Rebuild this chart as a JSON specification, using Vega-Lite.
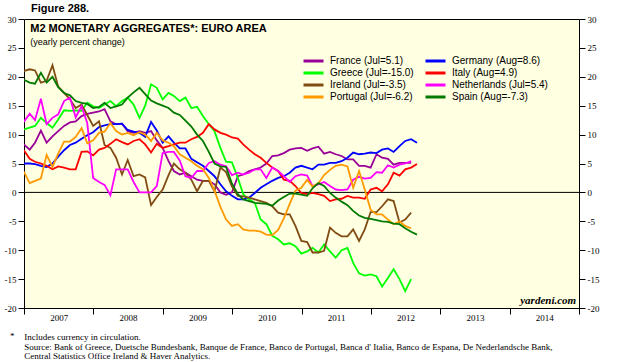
{
  "$schema": "https://vega.github.io/schema/vega-lite/v6.json",
  "width": 555,
  "height": 289,
  "autosize": {"type": "none"},
  "padding": {"left": 24, "top": 19, "right": 38, "bottom": 54},
  "background": "#ffffff",
  "title": {"text": "Figure 288.", "anchor": "start", "frame": "group", "dx": 7, "offset": -8, "font": "Liberation Sans", "fontSize": 11, "fontWeight": "bold", "color": "#000000", "baseline": "alphabetic"},
  "config": {
    "view": {"fill": "#ffffe1", "stroke": "#000000", "strokeWidth": 1},
    "axis": {"domain": false, "grid": false, "tickColor": "#000000", "labelColor": "#000000", "labelFont": "Liberation Serif", "labelFontSize": 9, "tickSize": 6, "tickWidth": 1}
  },
  "datasets": {
    "m2": [
      {"d":"2006-12-31","France":8.3,"Germany":5.0,"Greece":10.9,"Ireland":21.0,"Italy":7.3,"Netherlands":12.2,"Portugal":3.6,"Spain":19.5},
      {"d":"2007-01-31","France":7.4,"Germany":5.0,"Greece":11.2,"Ireland":21.3,"Italy":5.8,"Netherlands":13.6,"Portugal":1.6,"Spain":19.0},
      {"d":"2007-02-28","France":8.6,"Germany":4.9,"Greece":11.5,"Ireland":21.1,"Italy":5.3,"Netherlands":12.5,"Portugal":2.0,"Spain":18.8},
      {"d":"2007-03-31","France":10.7,"Germany":4.6,"Greece":12.9,"Ireland":19.0,"Italy":5.0,"Netherlands":16.2,"Portugal":2.4,"Spain":20.7},
      {"d":"2007-04-30","France":8.6,"Germany":4.4,"Greece":12.0,"Ireland":19.3,"Italy":4.6,"Netherlands":11.8,"Portugal":6.5,"Spain":19.0},
      {"d":"2007-05-31","France":9.7,"Germany":5.0,"Greece":11.2,"Ireland":22.0,"Italy":4.0,"Netherlands":12.9,"Portugal":4.4,"Spain":20.0},
      {"d":"2007-06-30","France":10.6,"Germany":6.2,"Greece":12.6,"Ireland":18.3,"Italy":4.5,"Netherlands":13.5,"Portugal":6.7,"Spain":18.2},
      {"d":"2007-07-31","France":11.5,"Germany":7.3,"Greece":14.2,"Ireland":17.2,"Italy":4.3,"Netherlands":15.8,"Portugal":8.8,"Spain":17.2},
      {"d":"2007-08-31","France":12.1,"Germany":8.2,"Greece":14.1,"Ireland":16.1,"Italy":4.0,"Netherlands":16.4,"Portugal":8.8,"Spain":16.8},
      {"d":"2007-09-30","France":12.3,"Germany":8.6,"Greece":14.2,"Ireland":14.6,"Italy":4.0,"Netherlands":13.0,"Portugal":9.6,"Spain":15.8},
      {"d":"2007-10-31","France":13.2,"Germany":9.3,"Greece":14.1,"Ireland":15.2,"Italy":7.0,"Netherlands":14.9,"Portugal":11.1,"Spain":15.5},
      {"d":"2007-11-30","France":13.6,"Germany":9.9,"Greece":15.5,"Ireland":13.4,"Italy":7.1,"Netherlands":12.0,"Portugal":8.5,"Spain":15.3},
      {"d":"2007-12-31","France":13.8,"Germany":10.4,"Greece":14.9,"Ireland":11.5,"Italy":6.4,"Netherlands":2.5,"Portugal":9.0,"Spain":14.6},
      {"d":"2008-01-31","France":14.0,"Germany":11.3,"Greece":14.6,"Ireland":12.3,"Italy":7.4,"Netherlands":1.8,"Portugal":10.3,"Spain":14.8},
      {"d":"2008-02-29","France":14.4,"Germany":11.6,"Greece":15.2,"Ireland":8.2,"Italy":7.7,"Netherlands":1.3,"Portugal":10.5,"Spain":15.5},
      {"d":"2008-03-31","France":12.3,"Germany":11.8,"Greece":15.8,"Ireland":7.7,"Italy":8.4,"Netherlands":-0.5,"Portugal":12.0,"Spain":14.6},
      {"d":"2008-04-30","France":11.8,"Germany":11.8,"Greece":14.9,"Ireland":6.0,"Italy":9.2,"Netherlands":4.0,"Portugal":10.6,"Spain":14.9},
      {"d":"2008-05-31","France":11.9,"Germany":11.9,"Greece":15.8,"Ireland":3.1,"Italy":8.7,"Netherlands":4.0,"Portugal":10.0,"Spain":15.2},
      {"d":"2008-06-30","France":10.6,"Germany":10.8,"Greece":16.4,"Ireland":5.6,"Italy":8.3,"Netherlands":4.0,"Portugal":10.3,"Spain":16.4},
      {"d":"2008-07-31","France":10.3,"Germany":10.5,"Greece":15.2,"Ireland":2.8,"Italy":8.9,"Netherlands":1.8,"Portugal":9.9,"Spain":17.3},
      {"d":"2008-08-31","France":10.6,"Germany":10.3,"Greece":12.9,"Ireland":3.1,"Italy":9.2,"Netherlands":0.0,"Portugal":10.4,"Spain":18.1},
      {"d":"2008-09-30","France":10.3,"Germany":9.6,"Greece":15.0,"Ireland":2.6,"Italy":8.3,"Netherlands":0.0,"Portugal":10.0,"Spain":17.0},
      {"d":"2008-10-31","France":10.6,"Germany":12.2,"Greece":18.7,"Ireland":-2.2,"Italy":6.9,"Netherlands":0.0,"Portugal":8.9,"Spain":15.9},
      {"d":"2008-11-30","France":9.0,"Germany":10.7,"Greece":18.1,"Ireland":-0.8,"Italy":8.4,"Netherlands":1.1,"Portugal":10.3,"Spain":15.4},
      {"d":"2008-12-31","France":7.7,"Germany":8.6,"Greece":16.1,"Ireland":0.5,"Italy":7.7,"Netherlands":6.8,"Portugal":9.0,"Spain":15.0},
      {"d":"2009-01-31","France":5.4,"Germany":9.7,"Greece":17.2,"Ireland":3.0,"Italy":8.0,"Netherlands":7.0,"Portugal":8.6,"Spain":14.6},
      {"d":"2009-02-28","France":3.7,"Germany":8.6,"Greece":16.7,"Ireland":5.0,"Italy":8.3,"Netherlands":7.0,"Portugal":8.0,"Spain":13.8},
      {"d":"2009-03-31","France":3.1,"Germany":7.6,"Greece":15.8,"Ireland":4.0,"Italy":8.6,"Netherlands":5.5,"Portugal":6.6,"Spain":13.4},
      {"d":"2009-04-30","France":3.4,"Germany":7.6,"Greece":16.4,"Ireland":3.4,"Italy":8.6,"Netherlands":2.8,"Portugal":6.0,"Spain":12.4},
      {"d":"2009-05-31","France":2.8,"Germany":5.8,"Greece":14.6,"Ireland":2.2,"Italy":9.2,"Netherlands":2.5,"Portugal":5.4,"Spain":11.4},
      {"d":"2009-06-30","France":2.2,"Germany":5.2,"Greece":14.8,"Ireland":0.2,"Italy":9.6,"Netherlands":3.7,"Portugal":4.6,"Spain":10.0},
      {"d":"2009-07-31","France":2.0,"Germany":4.6,"Greece":13.2,"Ireland":2.0,"Italy":10.3,"Netherlands":3.7,"Portugal":4.0,"Spain":8.9},
      {"d":"2009-08-31","France":2.0,"Germany":3.7,"Greece":11.8,"Ireland":2.0,"Italy":11.8,"Netherlands":5.1,"Portugal":2.5,"Spain":7.0},
      {"d":"2009-09-30","France":1.4,"Germany":2.8,"Greece":10.6,"Ireland":0.2,"Italy":10.9,"Netherlands":5.4,"Portugal":0.3,"Spain":5.0},
      {"d":"2009-10-31","France":0.0,"Germany":1.4,"Greece":7.7,"Ireland":4.3,"Italy":10.3,"Netherlands":4.8,"Portugal":-2.5,"Spain":4.5},
      {"d":"2009-11-30","France":-0.4,"Germany":0.2,"Greece":5.3,"Ireland":3.5,"Italy":10.0,"Netherlands":4.5,"Portugal":-4.7,"Spain":4.4},
      {"d":"2009-12-31","France":0.0,"Germany":-0.6,"Greece":5.2,"Ireland":1.0,"Italy":9.5,"Netherlands":3.0,"Portugal":-5.8,"Spain":1.5},
      {"d":"2010-01-31","France":2.8,"Germany":-1.2,"Greece":2.5,"Ireland":-0.6,"Italy":9.3,"Netherlands":3.4,"Portugal":-5.5,"Spain":-0.3},
      {"d":"2010-02-28","France":3.1,"Germany":-1.2,"Greece":-0.3,"Ireland":-0.7,"Italy":8.3,"Netherlands":3.1,"Portugal":-6.4,"Spain":-1.2},
      {"d":"2010-03-31","France":3.7,"Germany":-0.9,"Greece":-1.2,"Ireland":-0.9,"Italy":7.4,"Netherlands":3.4,"Portugal":-6.6,"Spain":-1.5},
      {"d":"2010-04-30","France":4.0,"Germany":-0.1,"Greece":-1.8,"Ireland":-1.2,"Italy":6.6,"Netherlands":4.0,"Portugal":-6.6,"Spain":-1.8},
      {"d":"2010-05-31","France":4.3,"Germany":0.8,"Greece":-4.7,"Ireland":-1.5,"Italy":6.0,"Netherlands":4.0,"Portugal":-6.8,"Spain":-1.9},
      {"d":"2010-06-30","France":5.0,"Germany":1.4,"Greece":-5.5,"Ireland":-1.8,"Italy":5.1,"Netherlands":2.5,"Portugal":-7.3,"Spain":-2.0},
      {"d":"2010-07-31","France":6.3,"Germany":2.0,"Greece":-7.5,"Ireland":-2.4,"Italy":4.3,"Netherlands":4.3,"Portugal":-7.4,"Spain":-2.3},
      {"d":"2010-08-31","France":6.4,"Germany":2.5,"Greece":-8.1,"Ireland":-3.5,"Italy":3.7,"Netherlands":3.7,"Portugal":-6.5,"Spain":-1.4},
      {"d":"2010-09-30","France":6.8,"Germany":2.8,"Greece":-9.0,"Ireland":-3.8,"Italy":2.2,"Netherlands":2.8,"Portugal":-4.5,"Spain":-0.8},
      {"d":"2010-10-31","France":7.4,"Germany":3.4,"Greece":-8.8,"Ireland":-3.8,"Italy":2.0,"Netherlands":1.8,"Portugal":-2.0,"Spain":-0.2},
      {"d":"2010-11-30","France":7.6,"Germany":4.3,"Greece":-9.3,"Ireland":-5.8,"Italy":1.1,"Netherlands":2.8,"Portugal":0.3,"Spain":-0.2},
      {"d":"2010-12-31","France":7.7,"Germany":4.6,"Greece":-10.6,"Ireland":-8.4,"Italy":-0.1,"Netherlands":3.1,"Portugal":0.8,"Spain":-0.4},
      {"d":"2011-01-31","France":7.2,"Germany":4.3,"Greece":-10.2,"Ireland":-8.6,"Italy":-0.3,"Netherlands":2.9,"Portugal":2.2,"Spain":-0.6},
      {"d":"2011-02-28","France":7.6,"Germany":4.0,"Greece":-9.6,"Ireland":-10.4,"Italy":-0.1,"Netherlands":1.1,"Portugal":1.0,"Spain":0.7},
      {"d":"2011-03-31","France":7.9,"Germany":4.8,"Greece":-10.4,"Ireland":-10.4,"Italy":-0.3,"Netherlands":1.4,"Portugal":1.6,"Spain":1.6},
      {"d":"2011-04-30","France":6.7,"Germany":4.8,"Greece":-9.0,"Ireland":-10.1,"Italy":-0.6,"Netherlands":1.8,"Portugal":3.0,"Spain":1.1},
      {"d":"2011-05-31","France":7.0,"Germany":5.1,"Greece":-10.2,"Ireland":-6.1,"Italy":-1.5,"Netherlands":1.1,"Portugal":3.9,"Spain":-0.1},
      {"d":"2011-06-30","France":6.6,"Germany":5.1,"Greece":-11.3,"Ireland":-7.0,"Italy":-1.2,"Netherlands":0.5,"Portugal":4.6,"Spain":-0.9},
      {"d":"2011-07-31","France":6.3,"Germany":5.4,"Greece":-10.0,"Ireland":-7.6,"Italy":-1.1,"Netherlands":0.4,"Portugal":4.8,"Spain":-1.6},
      {"d":"2011-08-31","France":5.7,"Germany":6.0,"Greece":-9.6,"Ireland":-7.6,"Italy":-0.6,"Netherlands":0.5,"Portugal":4.5,"Spain":-2.2},
      {"d":"2011-09-30","France":5.7,"Germany":6.9,"Greece":-12.2,"Ireland":-6.4,"Italy":-0.9,"Netherlands":2.2,"Portugal":0.8,"Spain":-3.2},
      {"d":"2011-10-31","France":4.6,"Germany":6.6,"Greece":-14.0,"Ireland":-8.4,"Italy":-0.9,"Netherlands":2.7,"Portugal":3.7,"Spain":-4.0},
      {"d":"2011-11-30","France":4.6,"Germany":6.7,"Greece":-14.4,"Ireland":-6.4,"Italy":-1.1,"Netherlands":2.4,"Portugal":0.5,"Spain":-4.4},
      {"d":"2011-12-31","France":4.3,"Germany":6.9,"Greece":-14.2,"Ireland":-3.4,"Italy":0.5,"Netherlands":2.5,"Portugal":-3.0,"Spain":-4.6},
      {"d":"2012-01-31","France":6.6,"Germany":6.8,"Greece":-14.5,"Ireland":-3.4,"Italy":0.8,"Netherlands":3.5,"Portugal":-3.8,"Spain":-4.8},
      {"d":"2012-02-29","France":6.0,"Germany":7.4,"Greece":-16.3,"Ireland":-2.4,"Italy":0.2,"Netherlands":3.4,"Portugal":-3.8,"Spain":-5.0},
      {"d":"2012-03-31","France":5.8,"Germany":7.6,"Greece":-14.8,"Ireland":-1.2,"Italy":1.4,"Netherlands":4.7,"Portugal":-4.7,"Spain":-5.1},
      {"d":"2012-04-30","France":4.8,"Germany":7.0,"Greece":-13.3,"Ireland":-1.5,"Italy":3.4,"Netherlands":4.3,"Portugal":-5.5,"Spain":-5.4},
      {"d":"2012-05-31","France":5.1,"Germany":8.0,"Greece":-15.0,"Ireland":-5.2,"Italy":2.9,"Netherlands":4.8,"Portugal":-5.0,"Spain":-5.5},
      {"d":"2012-06-30","France":5.1,"Germany":8.9,"Greece":-17.1,"Ireland":-4.7,"Italy":4.0,"Netherlands":5.0,"Portugal":-5.8,"Spain":-6.2},
      {"d":"2012-07-31","France":5.1,"Germany":9.2,"Greece":-15.0,"Ireland":-3.5,"Italy":4.3,"Netherlands":5.4,"Portugal":-6.2,"Spain":-6.8},
      {"d":"2012-08-31","France":null,"Germany":8.6,"Greece":null,"Ireland":null,"Italy":4.9,"Netherlands":null,"Portugal":null,"Spain":-7.3}
    ]
  },
  "layer": [
    {
      "data": {"values": [{"z": 0}]},
      "mark": {"type": "rule", "color": "#000000", "strokeWidth": 1},
      "encoding": {
        "y": {"field": "z", "type": "quantitative", "scale": {"domain": [-20, 30], "nice": false, "zero": false},
              "axis": {"orient": "right", "values": [-20,-15,-10,-5,0,5,10,15,20,25,30], "title": null, "labelPadding": 2, "labelAlign": "left", "labelExpr": "'' + datum.value"}}
      }
    },
    {
      "data": {"name": "m2"},
      "transform": [{"fold": ["France","Germany","Greece","Ireland","Italy","Netherlands","Portugal","Spain"], "as": ["country", "value"]}],
      "mark": {"type": "line", "strokeWidth": 1.8, "clip": true},
      "encoding": {
        "x": {"field": "d", "type": "temporal",
              "scale": {"type": "utc", "domain": [{"year": 2007, "month": 1, "date": 1, "utc": true}, {"year": 2015, "month": 1, "date": 1, "utc": true}]},
              "axis": {"orient": "bottom", "title": null,
                       "values": [{"year": 2007, "month": 1, "date": 1, "utc": true}, {"year": 2008, "month": 1, "date": 1, "utc": true}, {"year": 2009, "month": 1, "date": 1, "utc": true}, {"year": 2010, "month": 1, "date": 1, "utc": true}, {"year": 2011, "month": 1, "date": 1, "utc": true}, {"year": 2012, "month": 1, "date": 1, "utc": true}, {"year": 2013, "month": 1, "date": 1, "utc": true}, {"year": 2014, "month": 1, "date": 1, "utc": true}, {"year": 2015, "month": 1, "date": 1, "utc": true}],
                       "labelExpr": "utcyear(datum.value) < 2015 ? '' + utcyear(datum.value) : ''",
                       "labelOffset": 34.7, "labelAlign": "center", "labelBaseline": "alphabetic", "labelPadding": 6, "labelFlush": false, "labelOverlap": false}},
        "y": {"field": "value", "type": "quantitative", "scale": {"domain": [-20, 30], "nice": false, "zero": false},
              "axis": {"orient": "left", "values": [-20,-15,-10,-5,0,5,10,15,20,25,30], "title": null, "labelPadding": 2, "labelExpr": "'' + datum.value"}},
        "color": {"field": "country", "type": "nominal",
                  "scale": {"domain": ["France","Germany","Greece","Italy","Ireland","Netherlands","Portugal","Spain"],
                            "range": ["#990099","#0000ff","#00ff00","#ff0000","#804c14","#ff00ff","#ff9900","#007a00"]},
                  "legend": {"orient": "none", "legendX": 278, "legendY": 37, "columns": 2, "direction": "horizontal", "title": null,
                             "symbolType": "stroke", "symbolSize": 400, "symbolStrokeWidth": 3,
                             "labelFont": "Liberation Sans", "labelFontSize": 10, "labelColor": "#000000",
                             "clipHeight": 10, "rowPadding": 2, "columnPadding": 10, "labelOffset": 5, "labelLimit": 0, "padding": 0,
                             "labelExpr": "{'France':'France (Jul=5.1)','Germany':'Germany (Aug=8.6)','Greece':'Greece (Jul=-15.0)','Ireland':'Ireland (Jul=-3.5)','Italy':'Italy (Aug=4.9)','Netherlands':'Netherlands (Jul=5.4)','Portugal':'Portugal (Jul=-6.2)','Spain':'Spain (Aug=-7.3)'}[datum.label]"}}
      }
    },
    {
      "data": {"values": [{"label": "M2 MONETARY AGGREGATES*: EURO AREA", "t": "2007-02-03", "v": 27.7}]},
      "mark": {"type": "text", "align": "left", "baseline": "alphabetic", "font": "Liberation Sans", "fontSize": 11, "fontWeight": "bold", "color": "#000000"},
      "encoding": {
        "x": {"field": "t", "type": "temporal", "axis": null},
        "y": {"field": "v", "type": "quantitative", "axis": null},
        "text": {"field": "label"}
      }
    },
    {
      "data": {"values": [{"label": "(yearly percent change)", "t": "2007-02-03", "v": 25.5}]},
      "mark": {"type": "text", "align": "left", "baseline": "alphabetic", "font": "Liberation Sans", "fontSize": 9, "color": "#000000"},
      "encoding": {
        "x": {"field": "t", "type": "temporal", "axis": null},
        "y": {"field": "v", "type": "quantitative", "axis": null},
        "text": {"field": "label"}
      }
    },
    {
      "data": {"values": [{"label": "yardeni.com", "t": "2014-12-17", "v": -19.3}]},
      "mark": {"type": "text", "align": "right", "baseline": "alphabetic", "font": "Liberation Serif", "fontSize": 11, "fontWeight": "bold", "fontStyle": "italic", "color": "#000000"},
      "encoding": {
        "x": {"field": "t", "type": "temporal", "axis": null},
        "y": {"field": "v", "type": "quantitative", "axis": null},
        "text": {"field": "label"}
      }
    },
    {
      "data": {"values": [
        {"label": "*", "t": "2006-10-19", "v": -25.3},
        {"label": "Includes currency in circulation.", "t": "2007-01-02", "v": -25.5},
        {"label": "Source: Bank of Greece, Duetsche Bundesbank, Banque de France, Banco de Portugal, Banca d' Italia, Banco de Espana, De Nederlandsche Bank,", "t": "2007-01-02", "v": -27.18},
        {"label": "Central Statistics Office Ireland & Haver Analytics.", "t": "2007-01-02", "v": -28.86}
      ]},
      "mark": {"type": "text", "align": "left", "baseline": "alphabetic", "font": "Liberation Serif", "fontSize": 9, "color": "#000000", "clip": false, "limit": 600},
      "encoding": {
        "x": {"field": "t", "type": "temporal", "axis": null},
        "y": {"field": "v", "type": "quantitative", "axis": null},
        "text": {"field": "label"}
      }
    }
  ],
  "resolve": {"axis": {"x": "independent", "y": "independent"}}
}
